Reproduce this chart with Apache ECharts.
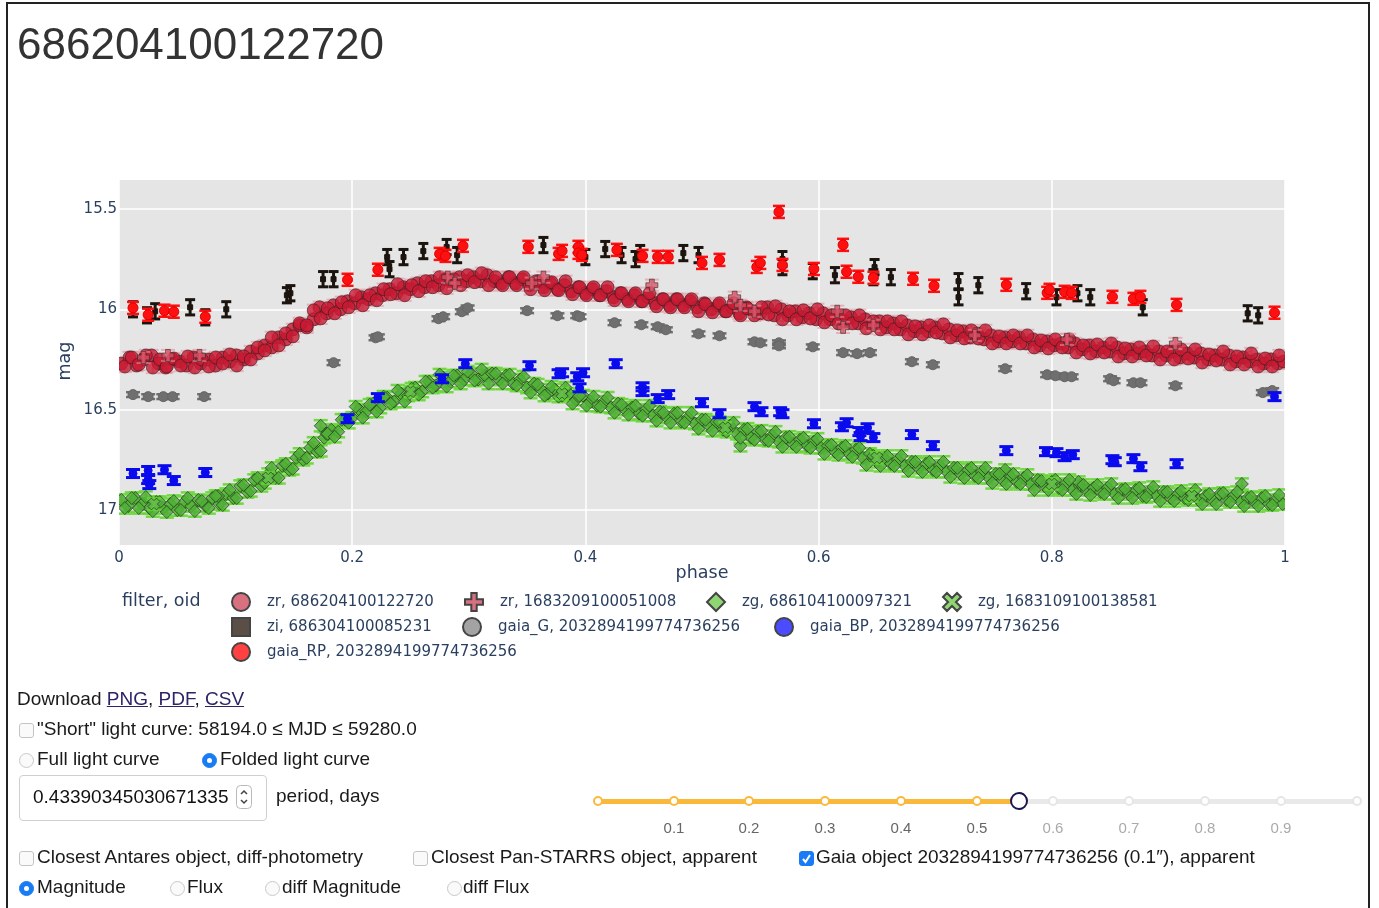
<!DOCTYPE html>
<html>
<head>
<meta charset="utf-8">
<script src="https://cdn.jsdelivr.net/npm/echarts@6/dist/echarts.min.js"></script>
<style>
  html, body { margin: 0; padding: 0; background: #fff; }
  #frame { position: absolute; left: 6px; top: 2px; width: 1364px; height: 1000px; border: 2px solid #222; box-sizing: border-box; }
  #chart { position: absolute; left: 0; top: 0; width: 1379px; height: 908px; }
  .t { position: absolute; height: 24px; line-height: 24px; font-family: "Liberation Sans", Arial, sans-serif; font-size: 19px; color: #1a1a1a; white-space: nowrap; }
  .t a { color: #2b2467; text-decoration: underline; }
  .cb { position: absolute; width: 13px; height: 13px; border: 1px solid #c4c4c4; border-radius: 3px; background: #fafafa; }
  .cb.on { background: #1a7cf5; border-color: #1a7cf5; }
  .rd { position: absolute; width: 13px; height: 13px; border: 1px solid #c8c8c8; border-radius: 50%; background: #fafafa; }
  .rd.on { background: #1a7cf5; border-color: #1a7cf5; }
  .rd.on::after { content: ""; position: absolute; left: 4px; top: 4px; width: 5px; height: 5px; border-radius: 50%; background: #fff; }
  #period { position: absolute; left: 19px; top: 775px; width: 248px; height: 46px; border: 1px solid #cfcfcf; border-radius: 4px; box-sizing: border-box; }
  .tick { position: absolute; font-family: "Liberation Sans", Arial, sans-serif; font-size: 15px; height: 18px; line-height: 18px; width: 40px; margin-left: -20px; text-align: center; }
  .dot { position: absolute; width: 6px; height: 6px; margin: -5px 0 0 -5px; border-radius: 50%; background: #fff; border: 2px solid #fbb93b; }
  .dot.off { border-color: #e6e6e6; }
</style>
</head>
<body>
<div id="chart"></div>
<div id="frame"></div>

<div class="t" style="left:17px;top:687px">Download <a>PNG</a>, <a>PDF</a>, <a>CSV</a></div>
<span class="cb" style="left:19px;top:723px"></span>
<div class="t" style="left:37px;top:717px">"Short" light curve: 58194.0 ≤ MJD ≤ 59280.0</div>
<span class="rd" style="left:19px;top:753px"></span>
<div class="t" style="left:37px;top:747px">Full light curve</div>
<span class="rd on" style="left:202px;top:753px"></span>
<div class="t" style="left:220px;top:747px">Folded light curve</div>

<div id="period"></div>
<div class="t" style="left:33px;top:785px;color:#111">0.43390345030671335</div>
<svg style="position:absolute;left:236px;top:785px" width="16" height="24" viewBox="0 0 16 24">
  <rect x="0.5" y="0.5" width="15" height="23" rx="4" fill="#fff" stroke="#b9b9b9"/>
  <path d="M5 9 L8 6 L11 9" fill="none" stroke="#444" stroke-width="1.5"/>
  <path d="M5 15 L8 18 L11 15" fill="none" stroke="#444" stroke-width="1.5"/>
</svg>
<div class="t" style="left:276px;top:784px">period, days</div>

<div style="position:absolute;left:598px;top:799px;width:421px;height:5px;background:#fbb93b"></div>
<div style="position:absolute;left:1019px;top:799px;width:338px;height:5px;background:#e9e9e9"></div>
<span class="dot" style="left:598px;top:801px"></span>
<span class="dot" style="left:674px;top:801px"></span>
<span class="dot" style="left:749px;top:801px"></span>
<span class="dot" style="left:825px;top:801px"></span>
<span class="dot" style="left:901px;top:801px"></span>
<span class="dot" style="left:977px;top:801px"></span>
<span class="dot off" style="left:1053px;top:801px"></span>
<span class="dot off" style="left:1129px;top:801px"></span>
<span class="dot off" style="left:1205px;top:801px"></span>
<span class="dot off" style="left:1281px;top:801px"></span>
<span class="dot off" style="left:1357px;top:801px"></span>
<span style="position:absolute;left:1010px;top:792px;width:14px;height:14px;border-radius:50%;background:#fff;border:2.5px solid #1c1650"></span>
<div class="tick" style="left:674px;top:819px;color:#666">0.1</div>
<div class="tick" style="left:749px;top:819px;color:#666">0.2</div>
<div class="tick" style="left:825px;top:819px;color:#666">0.3</div>
<div class="tick" style="left:901px;top:819px;color:#666">0.4</div>
<div class="tick" style="left:977px;top:819px;color:#666">0.5</div>
<div class="tick" style="left:1053px;top:819px;color:#aaa">0.6</div>
<div class="tick" style="left:1129px;top:819px;color:#aaa">0.7</div>
<div class="tick" style="left:1205px;top:819px;color:#aaa">0.8</div>
<div class="tick" style="left:1281px;top:819px;color:#aaa">0.9</div>

<span class="cb" style="left:19px;top:851px"></span>
<div class="t" style="left:37px;top:845px">Closest Antares object, diff-photometry</div>
<span class="cb" style="left:413px;top:851px"></span>
<div class="t" style="left:431px;top:845px">Closest Pan-STARRS object, apparent</div>
<span class="cb on" style="left:799px;top:851px"></span>
<svg style="position:absolute;left:800px;top:852px" width="13" height="13" viewBox="0 0 13 13"><path d="M3 7 L5.5 10 L10 3" fill="none" stroke="#fff" stroke-width="2"/></svg>
<div class="t" style="left:816px;top:845px">Gaia object 2032894199774736256 (0.1″), apparent</div>

<span class="rd on" style="left:19px;top:881px"></span>
<div class="t" style="left:37px;top:875px">Magnitude</div>
<span class="rd" style="left:170px;top:881px"></span>
<div class="t" style="left:187px;top:875px">Flux</div>
<span class="rd" style="left:265px;top:881px"></span>
<div class="t" style="left:282px;top:875px">diff Magnitude</div>
<span class="rd" style="left:447px;top:881px"></span>
<div class="t" style="left:463px;top:875px">diff Flux</div>

<script>
// Folded light curve of object 686204100122720: [phase, magnitude]

const zr686Points = [
  [0.002,16.27],[0.009,16.24],[0.015,16.28],[0.021,16.25],[0.028,16.23],[0.034,16.27],[0.040,16.29],[0.046,16.25],
  [0.052,16.26],[0.058,16.28],[0.064,16.24],[0.070,16.27],[0.077,16.25],[0.083,16.28],[0.089,16.24],[0.095,16.26],
  [0.101,16.23],[0.107,16.25],[0.113,16.21],[0.119,16.22],[0.125,16.18],[0.131,16.19],[0.137,16.14],[0.143,16.15],
  [0.149,16.10],[0.155,16.08],[0.161,16.09],[0.167,16.05],[0.172,15.99],[0.178,16.02],[0.184,15.98],[0.190,16.00],
  [0.196,15.96],[0.202,15.97],[0.208,15.94],[0.214,15.95],[0.220,15.92],[0.226,15.93],[0.232,15.90],[0.238,15.92],
  [0.244,15.89],[0.250,15.90],[0.256,15.87],[0.262,15.89],[0.268,15.86],[0.274,15.88],[0.280,15.85],[0.286,15.87],
  [0.292,15.84],[0.298,15.86],[0.304,15.84],[0.310,15.86],[0.316,15.83],[0.322,15.86],[0.328,15.87],[0.334,15.84],
  [0.340,15.87],[0.346,15.85],[0.352,15.88],[0.358,15.86],[0.364,15.89],[0.370,15.87],[0.376,15.90],[0.382,15.88],
  [0.388,15.91],[0.394,15.89],[0.400,15.92],[0.406,15.90],[0.412,15.93],[0.418,15.91],[0.424,15.94],[0.430,15.92],
  [0.436,15.95],[0.442,15.93],[0.448,15.96],[0.454,15.94],[0.460,15.97],[0.466,15.95],[0.472,15.98],[0.478,15.95],
  [0.484,15.98],[0.490,15.96],[0.496,15.99],[0.502,15.97],[0.508,16.00],[0.514,15.98],[0.520,16.01],[0.526,15.99],
  [0.532,16.02],[0.538,15.99],[0.544,16.01],[0.550,16.02],[0.556,15.99],[0.562,16.03],[0.568,16.00],[0.574,16.03],
  [0.580,16.01],[0.586,16.04],[0.592,16.02],[0.598,16.05],[0.604,16.02],[0.610,16.05],[0.616,16.03],[0.622,16.06],
  [0.628,16.04],[0.634,16.07],[0.640,16.05],[0.646,16.08],[0.652,16.06],[0.658,16.09],[0.664,16.07],[0.670,16.10],
  [0.676,16.08],[0.682,16.11],[0.688,16.09],[0.694,16.11],[0.700,16.09],[0.706,16.12],[0.712,16.10],[0.718,16.13],
  [0.724,16.11],[0.730,16.14],[0.736,16.12],[0.742,16.15],[0.748,16.13],[0.754,16.16],[0.760,16.14],[0.766,16.16],
  [0.772,16.14],[0.778,16.17],[0.784,16.15],[0.790,16.18],[0.796,16.16],[0.802,16.18],[0.808,16.17],[0.814,16.19],
  [0.820,16.17],[0.826,16.20],[0.832,16.18],[0.838,16.21],[0.844,16.19],[0.850,16.21],[0.856,16.19],[0.862,16.22],
  [0.868,16.20],[0.874,16.22],[0.880,16.21],[0.886,16.23],[0.892,16.21],[0.898,16.23],[0.904,16.21],[0.910,16.24],
  [0.916,16.22],[0.922,16.24],[0.928,16.22],[0.934,16.25],[0.940,16.23],[0.946,16.25],[0.952,16.23],[0.958,16.26],
  [0.964,16.24],[0.970,16.26],[0.976,16.25],[0.982,16.27],[0.988,16.25],[0.994,16.27],[0.999,16.26],
  [0.005,16.285],[0.011,16.24],[0.017,16.275],[0.023,16.23],[0.029,16.29],[0.035,16.25],[0.041,16.285],[0.047,16.245],
  [0.053,16.28],[0.059,16.235],[0.065,16.29],[0.071,16.25],[0.077,16.285],[0.083,16.24],[0.089,16.27],[0.095,16.225],
  [0.101,16.28],[0.107,16.235],[0.113,16.25],[0.119,16.19],[0.125,16.205],[0.131,16.14],[0.137,16.18],[0.143,16.12],
  [0.149,16.135],[0.155,16.07],[0.161,16.08],[0.167,16.005],[0.173,16.045],[0.179,15.995],[0.185,16.02],[0.191,15.965],
  [0.197,15.99],[0.203,15.93],[0.209,15.98],[0.215,15.93],[0.221,15.955],[0.227,15.90],[0.233,15.925],[0.239,15.875],
  [0.245,15.93],[0.251,15.88],[0.257,15.91],[0.263,15.86],[0.269,15.89],[0.275,15.84],[0.281,15.895],[0.287,15.85],
  [0.293,15.88],[0.299,15.83],[0.305,15.865],[0.311,15.82],[0.317,15.88],[0.323,15.84],[0.329,15.88],[0.335,15.84],
  [0.341,15.88],[0.347,15.84],[0.353,15.90],[0.359,15.865],[0.365,15.905],[0.371,15.865],[0.377,15.905],[0.383,15.86],
  [0.389,15.925],[0.395,15.89],[0.401,15.93],[0.407,15.89],[0.413,15.93],[0.419,15.89],[0.425,15.955],[0.431,15.92],
  [0.437,15.96],[0.443,15.92],[0.449,15.96],[0.455,15.92],[0.461,15.985],[0.467,15.95],[0.473,15.99],[0.479,15.95],
  [0.485,15.99],[0.491,15.95],[0.497,16.01],[0.503,15.975],[0.509,16.015],[0.515,15.97],[0.521,16.01],[0.527,15.97],
  [0.533,16.03],[0.539,15.995],[0.545,16.03],[0.551,15.99],[0.557,16.025],[0.563,15.985],[0.569,16.05],[0.575,16.01],
  [0.581,16.05],[0.587,16.005],[0.593,16.045],[0.599,16.00],[0.605,16.065],[0.611,16.03],[0.617,16.07],[0.623,16.03],
  [0.629,16.07],[0.635,16.03],[0.641,16.095],[0.647,16.06],[0.653,16.10],[0.659,16.06],[0.665,16.10],[0.671,16.06],
  [0.677,16.125],[0.683,16.085],[0.689,16.125],[0.695,16.08],[0.701,16.115],[0.707,16.075],[0.713,16.14],[0.719,16.105],
  [0.725,16.145],[0.731,16.105],[0.737,16.145],[0.743,16.105],[0.749,16.17],[0.755,16.135],[0.761,16.17],[0.767,16.13],
  [0.773,16.17],[0.779,16.13],[0.785,16.19],[0.791,16.155],[0.797,16.195],[0.803,16.15],[0.809,16.19],[0.815,16.15],
  [0.821,16.215],[0.827,16.18],[0.833,16.22],[0.839,16.175],[0.845,16.215],[0.851,16.17],[0.857,16.235],[0.863,16.195],
  [0.869,16.235],[0.875,16.19],[0.881,16.23],[0.887,16.185],[0.893,16.25],[0.899,16.21],[0.905,16.25],[0.911,16.20],
  [0.917,16.245],[0.923,16.20],[0.929,16.265],[0.935,16.225],[0.941,16.255],[0.947,16.21],[0.953,16.275],[0.959,16.235],
  [0.965,16.275],[0.971,16.22],[0.977,16.285],[0.983,16.245],[0.989,16.285],[0.995,16.23]
];

const zr1683Points = [
  [0.021,16.24],[0.042,16.23],[0.069,16.23],[0.282,15.84],[0.288,15.87],[0.354,15.87],[0.364,15.84],[0.457,15.88],
  [0.528,15.94],[0.533,15.98],[0.545,16.01],[0.616,16.01],[0.621,16.09],[0.647,16.08],[0.734,16.13],[0.813,16.15],
  [0.906,16.17]
];

const zg686Points = [
  [0.002,16.95],[0.008,16.98],[0.014,16.94],[0.020,16.97],[0.026,16.99],[0.032,16.96],[0.038,16.99],[0.044,16.97],
  [0.050,17.00],[0.056,16.96],[0.062,16.98],[0.068,16.95],[0.074,16.98],[0.080,16.94],[0.086,16.97],[0.092,16.92],
  [0.098,16.94],[0.104,16.88],[0.110,16.91],[0.116,16.85],[0.122,16.88],[0.128,16.82],[0.134,16.84],[0.140,16.78],
  [0.146,16.80],[0.152,16.74],[0.158,16.75],[0.164,16.69],[0.170,16.71],[0.176,16.64],[0.182,16.60],[0.188,16.61],
  [0.194,16.55],[0.200,16.54],[0.206,16.50],[0.212,16.51],[0.218,16.47],[0.224,16.49],[0.230,16.44],[0.236,16.46],
  [0.242,16.42],[0.248,16.43],[0.254,16.39],[0.260,16.41],[0.266,16.36],[0.272,16.38],[0.278,16.34],[0.284,16.36],
  [0.290,16.33],[0.296,16.35],[0.302,16.32],[0.308,16.35],[0.314,16.33],[0.320,16.32],[0.326,16.35],[0.332,16.33],
  [0.338,16.37],[0.344,16.35],[0.350,16.39],[0.356,16.37],[0.362,16.40],[0.368,16.42],[0.374,16.40],[0.380,16.43],
  [0.386,16.42],[0.392,16.45],[0.398,16.43],[0.404,16.46],[0.410,16.48],[0.416,16.46],[0.422,16.49],[0.428,16.47],
  [0.434,16.50],[0.440,16.49],[0.446,16.52],[0.452,16.50],[0.458,16.53],[0.464,16.51],[0.470,16.54],[0.476,16.52],
  [0.482,16.56],[0.488,16.54],[0.494,16.57],[0.500,16.55],[0.506,16.58],[0.512,16.56],[0.518,16.60],[0.524,16.58],
  [0.530,16.62],[0.536,16.60],[0.542,16.64],[0.548,16.61],[0.554,16.65],[0.560,16.63],[0.566,16.66],[0.572,16.64],
  [0.578,16.67],[0.584,16.65],[0.590,16.68],[0.596,16.66],[0.602,16.69],[0.608,16.68],[0.614,16.71],[0.620,16.69],
  [0.626,16.72],[0.632,16.70],[0.638,16.74],[0.644,16.72],[0.650,16.76],[0.656,16.74],[0.662,16.77],[0.668,16.75],
  [0.674,16.78],[0.680,16.76],[0.686,16.79],[0.692,16.77],[0.698,16.80],[0.704,16.78],[0.710,16.81],[0.716,16.79],
  [0.722,16.82],[0.728,16.80],[0.734,16.83],[0.740,16.81],[0.746,16.84],[0.752,16.82],[0.758,16.85],[0.764,16.83],
  [0.770,16.86],[0.776,16.84],[0.782,16.87],[0.788,16.85],[0.794,16.88],[0.800,16.86],[0.806,16.89],[0.812,16.87],
  [0.818,16.90],[0.824,16.88],[0.830,16.90],[0.836,16.89],[0.842,16.91],[0.848,16.89],[0.854,16.92],[0.860,16.90],
  [0.866,16.92],[0.872,16.90],[0.878,16.93],[0.884,16.91],[0.890,16.93],[0.896,16.91],[0.902,16.94],[0.908,16.92],
  [0.914,16.94],[0.920,16.92],[0.926,16.95],[0.932,16.93],[0.938,16.95],[0.944,16.92],[0.950,16.95],[0.956,16.93],
  [0.962,16.96],[0.968,16.94],[0.974,16.96],[0.980,16.94],[0.986,16.97],[0.992,16.95],[0.998,16.97],
  [0.173,16.58],[0.178,16.62],[0.533,16.68],[0.963,16.87],[0.085,16.93],[0.760,16.80],[0.823,16.86],
  [0.005,16.99],[0.011,16.94],[0.017,16.99],[0.023,16.935],[0.029,17.005],[0.035,16.96],[0.041,17.01],[0.047,16.955],
  [0.053,17.00],[0.059,16.94],[0.065,17.005],[0.071,16.955],[0.077,16.99],[0.083,16.93],[0.089,16.975],[0.095,16.90],
  [0.101,16.94],[0.107,16.875],[0.113,16.905],[0.119,16.84],[0.125,16.865],[0.131,16.79],[0.137,16.84],[0.143,16.77],
  [0.149,16.795],[0.155,16.72],[0.161,16.74],[0.167,16.665],[0.173,16.705],[0.179,16.62],[0.185,16.635],[0.191,16.55],
  [0.197,16.565],[0.203,16.485],[0.209,16.54],[0.215,16.475],[0.221,16.51],[0.227,16.435],[0.233,16.47],[0.239,16.405],
  [0.245,16.46],[0.251,16.395],[0.257,16.425],[0.263,16.36],[0.269,16.39],[0.275,16.325],[0.281,16.385],[0.287,16.33],
  [0.293,16.37],[0.299,16.31],[0.305,16.355],[0.311,16.30],[0.317,16.37],[0.323,16.32],[0.329,16.37],[0.335,16.325],
  [0.341,16.38],[0.347,16.335],[0.353,16.415],[0.359,16.375],[0.365,16.43],[0.371,16.385],[0.377,16.435],[0.383,16.39],
  [0.389,16.47],[0.395,16.43],[0.401,16.48],[0.407,16.435],[0.413,16.485],[0.419,16.44],[0.425,16.515],[0.431,16.475],
  [0.437,16.525],[0.443,16.48],[0.449,16.53],[0.455,16.48],[0.461,16.555],[0.467,16.515],[0.473,16.565],[0.479,16.515],
  [0.485,16.565],[0.491,16.515],[0.497,16.595],[0.503,16.55],[0.509,16.605],[0.515,16.56],[0.521,16.61],[0.527,16.565],
  [0.533,16.64],[0.539,16.595],[0.545,16.65],[0.551,16.605],[0.557,16.655],[0.563,16.61],[0.569,16.685],[0.575,16.635],
  [0.581,16.685],[0.587,16.64],[0.593,16.69],[0.599,16.645],[0.605,16.72],[0.611,16.675],[0.617,16.725],[0.623,16.68],
  [0.629,16.735],[0.635,16.69],[0.641,16.775],[0.647,16.73],[0.653,16.78],[0.659,16.73],[0.665,16.78],[0.671,16.73],
  [0.677,16.805],[0.683,16.76],[0.689,16.81],[0.695,16.76],[0.701,16.81],[0.707,16.76],[0.713,16.835],[0.719,16.79],
  [0.725,16.84],[0.731,16.79],[0.737,16.84],[0.743,16.79],[0.749,16.865],[0.755,16.82],[0.761,16.87],[0.767,16.82],
  [0.773,16.87],[0.779,16.825],[0.785,16.90],[0.791,16.855],[0.797,16.90],[0.803,16.85],[0.809,16.90],[0.815,16.85],
  [0.821,16.92],[0.827,16.875],[0.833,16.925],[0.839,16.875],[0.845,16.92],[0.851,16.87],[0.857,16.94],[0.863,16.895],
  [0.869,16.94],[0.875,16.89],[0.881,16.935],[0.887,16.885],[0.893,16.955],[0.899,16.91],[0.905,16.955],[0.911,16.905],
  [0.917,16.95],[0.923,16.90],[0.929,16.97],[0.935,16.92],[0.941,16.97],[0.947,16.915],[0.953,16.96],[0.959,16.91],
  [0.965,16.98],[0.971,16.935],[0.977,16.98],[0.983,16.93],[0.989,16.975],[0.995,16.925]
];

const zg1683Points = [
  [0.030,16.97],[0.128,16.84],[0.250,16.41],[0.380,16.42],[0.520,16.59],[0.650,16.74],[0.800,16.87],[0.920,16.93]
];

const ziPoints = [
  [0.012,16.00],[0.024,16.03],[0.031,16.01],[0.061,15.99],[0.074,16.04],[0.092,16.00],[0.144,15.93],[0.147,15.92],
  [0.175,15.85],[0.184,15.85],[0.230,15.74],[0.232,15.80],[0.244,15.74],[0.261,15.71],[0.281,15.69],[0.290,15.73],
  [0.364,15.68],[0.400,15.74],[0.417,15.70],[0.431,15.73],[0.443,15.75],[0.447,15.72],[0.484,15.72],[0.497,15.73],
  [0.569,15.75],[0.569,15.79],[0.595,15.81],[0.614,15.83],[0.648,15.79],[0.647,15.84],[0.662,15.84],[0.720,15.86],
  [0.720,15.94],[0.737,15.88],[0.778,15.91],[0.804,15.94],[0.822,15.92],[0.833,15.94],[0.878,15.99],[0.968,16.02],
  [0.977,16.03]
];

const gaiaGPoints = [
  [0.012,16.425],[0.025,16.435],[0.038,16.435],[0.046,16.435],[0.073,16.435],[0.184,16.266],[0.220,16.142],[0.222,16.137],
  [0.274,16.047],[0.278,16.037],[0.294,16.012],[0.299,15.993],[0.350,16.007],[0.376,16.032],[0.393,16.032],[0.395,16.037],
  [0.425,16.067],[0.448,16.077],[0.462,16.087],[0.469,16.102],[0.497,16.122],[0.515,16.132],[0.545,16.162],[0.550,16.167],
  [0.566,16.167],[0.566,16.182],[0.595,16.187],[0.621,16.216],[0.633,16.221],[0.644,16.216],[0.680,16.261],[0.698,16.276],
  [0.760,16.296],[0.796,16.326],[0.803,16.331],[0.811,16.336],[0.817,16.336],[0.850,16.346],[0.853,16.356],[0.870,16.366],
  [0.876,16.366],[0.906,16.381],[0.981,16.415],[0.989,16.405]
];

const gaiaBPPoints = [
  [0.012,16.818],[0.025,16.803],[0.025,16.848],[0.026,16.873],[0.039,16.799],[0.047,16.853],[0.074,16.813],[0.196,16.545],
  [0.222,16.440],[0.277,16.346],[0.297,16.271],[0.352,16.281],[0.377,16.321],[0.380,16.316],[0.393,16.336],[0.398,16.316],
  [0.395,16.391],[0.426,16.271],[0.449,16.386],[0.449,16.410],[0.462,16.445],[0.471,16.425],[0.500,16.465],[0.515,16.520],
  [0.545,16.485],[0.551,16.510],[0.567,16.510],[0.569,16.520],[0.596,16.570],[0.620,16.585],[0.624,16.565],[0.635,16.609],
  [0.636,16.634],[0.642,16.590],[0.647,16.639],[0.680,16.624],[0.698,16.679],[0.761,16.704],[0.795,16.709],[0.804,16.714],
  [0.811,16.734],[0.818,16.724],[0.852,16.749],[0.854,16.759],[0.870,16.744],[0.876,16.784],[0.907,16.769],[0.991,16.435]
];

const gaiaRPPoints = [
  [0.012,15.993],[0.025,16.027],[0.039,16.007],[0.047,16.012],[0.074,16.037],[0.196,15.853],[0.222,15.803],[0.275,15.724],
  [0.280,15.734],[0.295,15.684],[0.351,15.689],[0.377,15.724],[0.380,15.709],[0.394,15.689],[0.394,15.719],[0.397,15.729],
  [0.427,15.704],[0.449,15.734],[0.462,15.739],[0.471,15.739],[0.500,15.769],[0.515,15.754],[0.547,15.789],[0.550,15.769],
  [0.566,15.515],[0.569,15.779],[0.596,15.799],[0.621,15.679],[0.624,15.813],[0.634,15.838],[0.647,15.843],[0.681,15.848],
  [0.699,15.883],[0.761,15.878],[0.796,15.918],[0.798,15.903],[0.811,15.913],[0.817,15.918],[0.852,15.938],[0.870,15.948],
  [0.876,15.938],[0.907,15.978],[0.991,16.017]
];

// photometric uncertainty (mag) per data set
const zr686Err = 0.028, zr1683Err = 0.028, zg686Err = 0.028, zg1683Err = 0.028;
const ziErr = 0.038, gaiaGErr = 0.012, gaiaBPErr = 0.02, gaiaRPErr = 0.03;

const yTickValues = [15.5, 16, 16.5, 17];
const yRange = [15.356, 17.174];

// marker geometry
function markerShape(kind, cx, cy, s) {
  const a = s / 2;
  if (kind === 'circle') return { type: 'circle', shape: { cx: cx, cy: cy, r: a } };
  if (kind === 'square') return { type: 'rect', shape: { x: cx - a, y: cy - a, width: s, height: s } };
  if (kind === 'diamond') return { type: 'polygon', shape: { points: [[cx, cy - a], [cx + a, cy], [cx, cy + a], [cx - a, cy]] } };
  const b = s * 0.2;
  let pts = [[-b,-a],[b,-a],[b,-b],[a,-b],[a,b],[b,b],[b,a],[-b,a],[-b,b],[-a,b],[-a,-b],[-b,-b]];
  if (kind === 'x') {
    const c = Math.SQRT1_2;
    pts = pts.map(p => [(p[0] - p[1]) * c, (p[0] + p[1]) * c]);
  }
  return { type: 'polygon', shape: { points: pts.map(p => [cx + p[0], cy + p[1]]) } };
}

function errorSeries(name, data, err, st) {
  return {
    name: name, type: 'custom', data: data, clip: true,
    renderItem: function (params, api) {
      const p = api.value(0), m = api.value(1);
      const t = api.coord([p, m - err]);
      const b = api.coord([p, m + err]);
      const x = t[0];
      const style = { stroke: st.color, lineWidth: st.width, fill: null };
      return {
        type: 'group', silent: true,
        children: [
          { type: 'line', shape: { x1: x, y1: t[1], x2: x, y2: b[1] }, style: style },
          { type: 'line', shape: { x1: x - st.cap, y1: t[1], x2: x + st.cap, y2: t[1] }, style: style },
          { type: 'line', shape: { x1: x - st.cap, y1: b[1], x2: x + st.cap, y2: b[1] }, style: style }
        ]
      };
    }
  };
}

function markerSeries(name, data, st) {
  return {
    name: name, type: 'custom', data: data, clip: true,
    itemStyle: { color: st.fill },
    renderItem: function (params, api) {
      const c = api.coord([api.value(0), api.value(1)]);
      const el = markerShape(st.symbol, c[0], c[1], st.size);
      el.style = { fill: st.fill, stroke: st.stroke, lineWidth: st.lineWidth };
      el.silent = true;
      return el;
    }
  };
}

const sets = [
  { name: 'zr, 686204100122720', data: zr686Points, err: zr686Err,
    bar: { color: 'rgba(232,135,150,0.55)', width: 2, cap: 7 },
    mk: { symbol: 'circle', size: 13, fill: 'rgba(200,25,50,0.8)', stroke: 'rgba(45,30,30,0.6)', lineWidth: 1 } },
  { name: 'zr, 1683209100051008', data: zr1683Points, err: zr1683Err,
    bar: { color: 'rgba(232,140,155,0.6)', width: 2, cap: 7 },
    mk: { symbol: 'plus', size: 12, fill: 'rgba(215,80,100,0.75)', stroke: 'rgba(50,40,40,0.6)', lineWidth: 1 } },
  { name: 'zg, 686104100097321', data: zg686Points, err: zg686Err,
    bar: { color: 'rgba(100,215,50,0.9)', width: 2.5, cap: 7 },
    mk: { symbol: 'diamond', size: 13, fill: 'rgba(80,175,55,0.85)', stroke: 'rgba(40,50,35,0.7)', lineWidth: 1 } },
  { name: 'zg, 1683109100138581', data: zg1683Points, err: zg1683Err,
    bar: { color: 'rgba(100,215,50,0.9)', width: 2.5, cap: 7 },
    mk: { symbol: 'x', size: 12, fill: 'rgba(100,190,75,0.85)', stroke: 'rgba(40,50,35,0.7)', lineWidth: 1 } },
  { name: 'zi, 686304100085231', data: ziPoints, err: ziErr,
    bar: { color: '#1c140e', width: 3, cap: 5 },
    mk: { symbol: 'square', size: 5, fill: '#1c140e', stroke: '#1c140e', lineWidth: 1 } },
  { name: 'gaia_G, 2032894199774736256', data: gaiaGPoints, err: gaiaGErr,
    bar: { color: '#6f6f6f', width: 2.5, cap: 7 },
    mk: { symbol: 'circle', size: 10, fill: '#6f6f6f', stroke: '#666', lineWidth: 1 } },
  { name: 'gaia_BP, 2032894199774736256', data: gaiaBPPoints, err: gaiaBPErr,
    bar: { color: '#0a0aee', width: 3, cap: 7 },
    mk: { symbol: 'circle', size: 8, fill: '#0a0aee', stroke: '#0a0aee', lineWidth: 1 } },
  { name: 'gaia_RP, 2032894199774736256', data: gaiaRPPoints, err: gaiaRPErr,
    bar: { color: '#ff1010', width: 2.5, cap: 6 },
    mk: { symbol: 'circle', size: 10, fill: '#ff1010', stroke: '#e00000', lineWidth: 1 } }
];

const series = [];
sets.forEach(s => {
  series.push(errorSeries(s.name, s.data, s.err, s.bar));
  series.push(markerSeries(s.name, s.data, s.mk));
});

// legend entries, laid out in rows
const plusIcon = 'path://M3.5,0 H6.5 V3.5 H10 V6.5 H6.5 V10 H3.5 V6.5 H0 V3.5 H3.5 Z';
const xIcon = 'path://M0,2.2 L2.2,0 L5,2.8 L7.8,0 L10,2.2 L7.2,5 L10,7.8 L7.8,10 L5,7.2 L2.2,10 L0,7.8 L2.8,5 Z';
const legendLayout = [
  { name: 'zr, 686204100122720', icon: 'circle', color: '#d9707f', x: 240, y: 601 },
  { name: 'zr, 1683209100051008', icon: plusIcon, color: '#d9707f', x: 473, y: 601 },
  { name: 'zg, 686104100097321', icon: 'diamond', color: '#8fd672', x: 715, y: 601 },
  { name: 'zg, 1683109100138581', icon: xIcon, color: '#8fd672', x: 951, y: 601 },
  { name: 'zi, 686304100085231', icon: 'rect', color: '#5a4f46', x: 240, y: 626 },
  { name: 'gaia_G, 2032894199774736256', icon: 'circle', color: '#a3a3a3', x: 471, y: 626 },
  { name: 'gaia_BP, 2032894199774736256', icon: 'circle', color: '#4b4bff', x: 783, y: 626 },
  { name: 'gaia_RP, 2032894199774736256', icon: 'circle', color: '#ff4141', x: 240, y: 651 }
];
const legends = legendLayout.map(l => ({
  left: l.x - 9, top: l.y - 9, padding: 0, itemWidth: 18, itemHeight: 18,
  selectedMode: false,
  textStyle: { color: '#2a3f5f', fontSize: 15, fontFamily: 'DejaVu Sans', padding: [0, 0, 0, 12] },
  data: [{ name: l.name, icon: l.icon, itemStyle: { color: l.color, borderColor: '#444', borderWidth: 2 } }]
}));

const axisFont = { color: '#2a3f5f', fontSize: 15, fontFamily: 'DejaVu Sans' };

const chart = echarts.init(document.getElementById('chart'), null, { renderer: 'canvas' });
chart.setOption({
  animation: false,
  backgroundColor: '#fff',
  grid: { left: 119, top: 180, width: 1166, height: 365, show: true, backgroundColor: '#e5e5e5', borderWidth: 0 },
  xAxis: {
    type: 'value', min: 0, max: 1, interval: 0.2,
    axisLine: { show: false }, axisTick: { show: false },
    axisLabel: Object.assign({ margin: 6 }, axisFont),
    splitLine: { show: true, lineStyle: { color: '#ffffff', width: 1.5 } }
  },
  yAxis: {
    type: 'value', inverse: true, min: yRange[0], max: yRange[1],
    axisLine: { show: false },
    axisTick: { show: false, customValues: yTickValues },
    axisLabel: Object.assign({ margin: 2, customValues: yTickValues }, axisFont),
    splitLine: { show: true, lineStyle: { color: '#ffffff', width: 1.5 } }
  },
  legend: legends,
  graphic: [
    { type: 'text', x: 17, y: 47, style: { text: '686204100122720', font: '44px "Liberation Sans", Arial, sans-serif', fill: '#333', verticalAlign: 'middle' } },
    { type: 'text', x: 702, y: 573, style: { text: 'phase', font: '17.5px "DejaVu Sans"', fill: '#2a3f5f', align: 'center', verticalAlign: 'middle' } },
    { type: 'text', x: 65, y: 361, rotation: Math.PI / 2, style: { text: 'mag', font: '17.5px "DejaVu Sans"', fill: '#2a3f5f', align: 'center', verticalAlign: 'middle' } },
    { type: 'text', x: 122, y: 601, style: { text: 'filter, oid', font: '17.5px "DejaVu Sans"', fill: '#2a3f5f', verticalAlign: 'middle' } }
  ],
  series: series
});
</script>
</body>
</html>
